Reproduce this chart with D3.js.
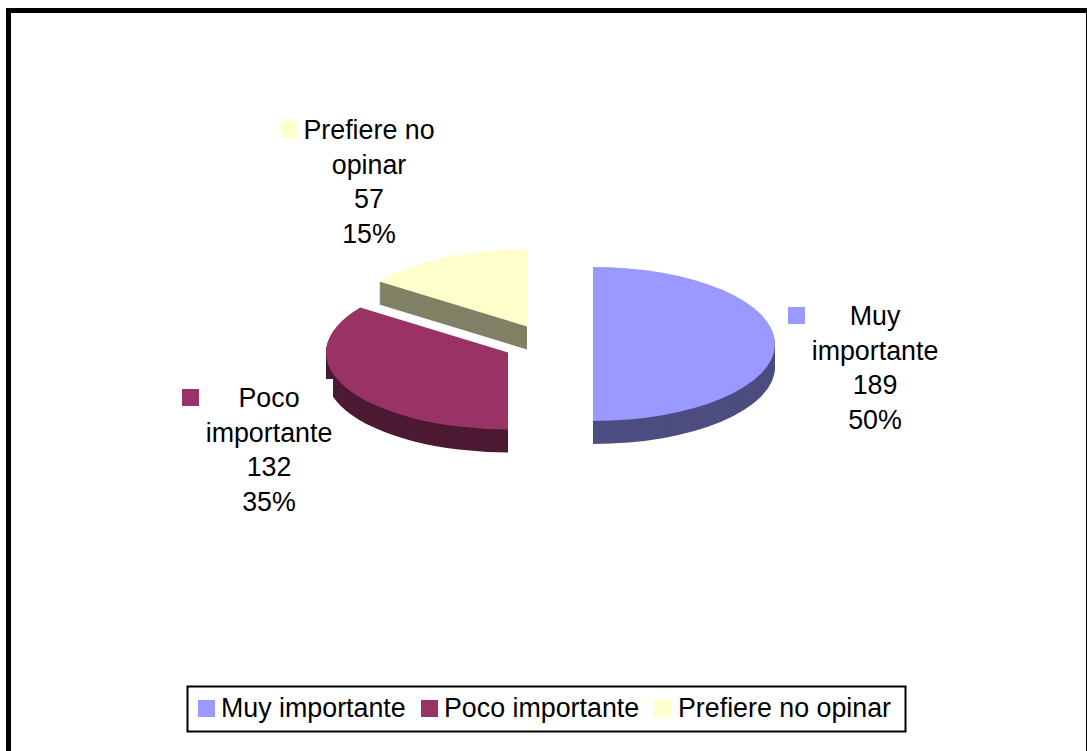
<!DOCTYPE html>
<html><head><meta charset="utf-8">
<script src="https://cdn.jsdelivr.net/npm/d3@7/dist/d3.min.js"></script>
<style>html,body{margin:0;background:#fff;overflow:hidden}svg{display:block}text{font-family:"Liberation Sans",Arial,sans-serif;font-size:26.8px;fill:#000}</style>
</head><body><svg id="c" width="1087" height="751"></svg>
<script>
const categories=["Muy importante","Poco importante","Prefiere no opinar"];
const values=[189,132,57];
const percents=["50%","35%","15%"];
const topColors=["#9999ff","#993366","#ffffcc"];
const sideColors=["#4d4d80","#4d1a33","#808066"];
const labelLines=[["Muy","importante"],["Poco","importante"],["Prefiere no","opinar"]];
const centers=[[593,344],[508,352.5],[527,326.5]];
const labelPos=[[875,325],[269,407],[369,139]];
const labelKeys=[[788,307],[182,389],[281,121]];
const rx=182, ry=77, depth=23, lh=34.5;
const svg=d3.select("#c");
svg.append("rect").attr("x",8.5).attr("y",10.5).attr("width",1080).attr("height",760).attr("fill","#fff").attr("stroke","#000").attr("stroke-width",5);
const pie=d3.pie().sort(null)(values);
const arc=d3.arc().innerRadius(0).outerRadius(rx);
[2,1,0].forEach(i=>{
  const g=svg.append("g").attr("class","slice");
  const [cx,cy]=centers[i];
  d3.range(depth,0,-1).forEach(k=>{
    g.append("path").attr("d",arc(pie[i])).attr("fill",sideColors[i])
     .attr("transform",`translate(${cx},${cy+k}) scale(1,${ry/rx})`);
  });
  if(i===1) g.append("rect").attr("x",cx-rx-2).attr("y",cy+26.5).attr("width",9).attr("height",24).attr("fill","#fff");
  g.append("path").attr("d",arc(pie[i])).attr("fill",topColors[i])
   .attr("transform",`translate(${cx},${cy}) scale(1,${ry/rx})`);
});
categories.forEach((c,i)=>{
  svg.append("rect").attr("x",labelKeys[i][0]).attr("y",labelKeys[i][1]).attr("width",17).attr("height",17).attr("fill",topColors[i]);
  const lines=[...labelLines[i],String(values[i]),percents[i]];
  lines.forEach((t,j)=>svg.append("text").attr("x",labelPos[i][0]).attr("y",labelPos[i][1]+j*lh).attr("text-anchor","middle").text(t));
});
const lg=svg.append("g");
lg.append("rect").attr("x",187.5).attr("y",686.5).attr("width",718).attr("height",45).attr("fill","#fff").attr("stroke","#000").attr("stroke-width",2);
const lx=[198,421,654], tx=[221,444,678];
categories.forEach((c,i)=>{
  lg.append("rect").attr("x",lx[i]).attr("y",700).attr("width",17).attr("height",17).attr("fill",topColors[i]);
  lg.append("text").attr("x",tx[i]).attr("y",717).text(c);
});
</script></body></html>
